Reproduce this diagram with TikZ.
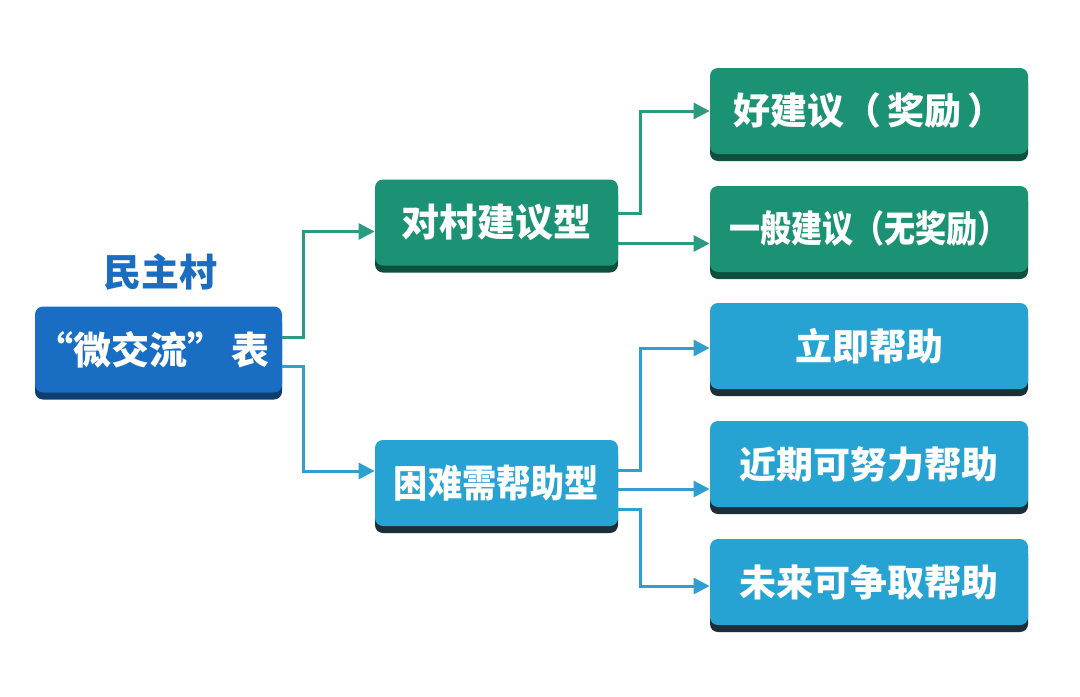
\documentclass[tikz,border=0pt]{standalone}
\usepackage{fontspec}
\usepackage{graphicx}
\newfontfamily\cjk{Noto Sans CJK SC}
\usetikzlibrary{arrows.meta,shadows}
\definecolor{gbox}{HTML}{1C9274}
\definecolor{gshadow}{HTML}{0E4F3E}
\definecolor{bbox}{HTML}{26A3D2}
\definecolor{bshadow}{HTML}{1C2F38}
\definecolor{mbox}{HTML}{196EC3}
\definecolor{mshadow}{HTML}{0E3D6E}
\definecolor{gline}{HTML}{2A9A80}
\definecolor{bline}{HTML}{2E9FCE}
\definecolor{titlec}{HTML}{1A6DC0}
\tikzset{
  box/.style={rounded corners=4pt, text=white, font=\cjk\bfseries\fontsize{19}{22}\selectfont, inner sep=0pt, minimum height=43pt},
  greenbox/.style={box, fill=gbox, drop shadow={shadow xshift=0pt, shadow yshift=-3.5pt, fill=gshadow, opacity=1}},
  bluebox/.style={box, fill=bbox, drop shadow={shadow xshift=0pt, shadow yshift=-3.5pt, fill=bshadow, opacity=1}},
  mainbox/.style={box, fill=mbox, drop shadow={shadow xshift=0pt, shadow yshift=-3.5pt, fill=mshadow, opacity=1}},
  rightfont/.style={font=\cjk\bfseries\fontsize{18.5}{22}\selectfont},
  glink/.style={draw=gline, line width=1.5pt, -{Triangle[length=8pt,width=8pt]}},
  blink/.style={draw=bline, line width=1.5pt, -{Triangle[length=8pt,width=8pt]}},
}
\begin{document}
\begin{tikzpicture}[x=0.5pt,y=-0.5pt]
\useasboundingbox[fill=white] (0,0) rectangle (1080,696);
\node[font=\cjk\bfseries\fontsize{19}{22}\selectfont, text=titlec] (title) at (160,272) {民主村};
\node[mainbox, minimum width=123.5pt] (main) at (158.5,349.5) {\hspace*{-6pt}“微交流”\hspace{3pt}表};
\node[greenbox, minimum width=121.5pt] (g1) at (496.5,222.5) {对村建议型};
\node[bluebox, minimum width=121.5pt] (k1) at (496.5,483) {\scalebox{0.9}[1]{困难需帮助型}};
\node[greenbox, minimum width=159pt, rightfont] (r1) at (869,111) {好建议（\hspace{3pt}奖励\hspace{3pt}）};
\node[greenbox, minimum width=159pt, rightfont] (r2) at (869,229) {\scalebox{0.84}[1]{一般建议（无奖励）}};
\node[bluebox, minimum width=159pt, rightfont] (r3) at (869,346) {立即帮助};
\node[bluebox, minimum width=159pt, rightfont] (r4) at (869,464) {近期可努力帮助};
\node[bluebox, minimum width=159pt, rightfont] (r5) at (869,582) {未来可争取帮助};
% main connectors
\draw[glink] ([yshift=6.25pt]main.east) -- ++(10.5pt,0) |- ([yshift=-4.5pt]g1.west);
\draw[blink] ([yshift=-8.25pt]main.east) -- ++(10.5pt,0) |- ([yshift=6pt]k1.west);
% g1 connectors
\draw[glink] ([yshift=4.5pt]g1.east) -- ++(11pt,0) |- (r1.west);
\draw[glink] ([yshift=-10.5pt]g1.east) -- ([yshift=-10.5pt]g1.east -| r2.west);
% k1 connectors
\draw[blink] ([yshift=6.5pt]k1.east) -- ++(11pt,0) |- ([yshift=-1pt]r3.west);
\draw[blink] ([yshift=-3pt]k1.east) -- ([yshift=-3pt]k1.east -| r4.west);
\draw[blink] ([yshift=-13pt]k1.east) -- ++(11pt,0) |- ([yshift=-2pt]r5.west);
\end{tikzpicture}
\end{document}
